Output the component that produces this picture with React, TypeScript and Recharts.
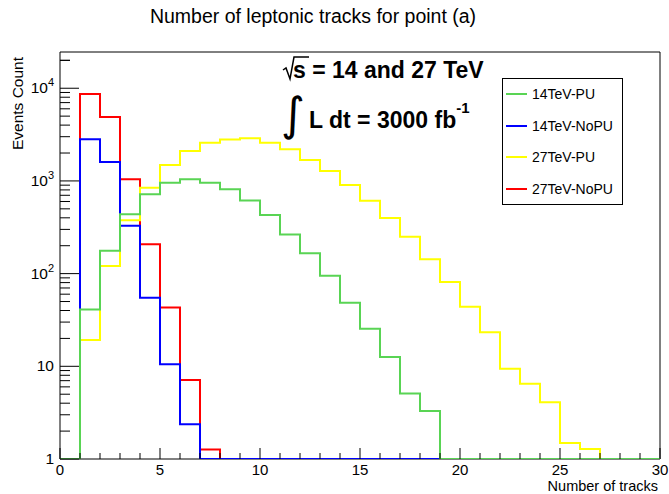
import React from "react";
import { LineChart, Line, XAxis, YAxis, ReferenceArea, Legend, Label } from "recharts";

const FONT = '"Liberation Sans", Arial, Helvetica, sans-serif';

// lower edges of the 30 one-unit bins
const binLow = [
  0, 1, 2, 3, 4, 5, 6, 7, 8, 9, 10, 11, 12, 13, 14, 15, 16, 17, 18, 19, 20,
  21, 22, 23, 24, 25, 26, 27, 28, 29,
];
const xMax = 30;

// bin contents
const pu14 = [
  0, 41, 177, 436, 717, 957, 1040, 957, 815, 615, 428, 265, 166, 95, 48.5,
  25.5, 12.6, 5.1, 3.3, 0, 0, 0, 0, 0, 0, 0, 0, 0, 0, 0,
];
const noPu14 = [
  0, 2810, 1600, 329, 55, 10.5, 2.37, 0, 0, 0, 0, 0, 0, 0, 0, 0, 0, 0, 0, 0,
  0, 0, 0, 0, 0, 0, 0, 0, 0, 0,
];
const pu27 = [
  0, 19.2, 121, 376, 845, 1485, 2100, 2580, 2800, 2880, 2580, 2190, 1680,
  1280, 904, 611, 398, 250, 143, 81, 44, 23.3, 9.4, 6.5, 4.1, 1.49, 1.28, 0,
  0, 0,
];
const noPu27 = [
  0, 8650, 4890, 1040, 208, 43, 7.1, 1.27, 0, 0, 0, 0, 0, 0, 0, 0, 0, 0, 0, 0,
  0, 0, 0, 0, 0, 0, 0, 0, 0, 0,
];

const series = [
  { key: "pu14", name: "14TeV-PU", color: "#59d454", values: pu14 },
  { key: "noPu14", name: "14TeV-NoPU", color: "#0000ff", values: noPu14 },
  { key: "pu27", name: "27TeV-PU", color: "#ffff00", values: pu27 },
  { key: "noPu27", name: "27TeV-NoPU", color: "#ff0000", values: noPu27 },
];

const xTicks = [
  0, 1, 2, 3, 4, 5, 6, 7, 8, 9, 10, 11, 12, 13, 14, 15, 16, 17, 18, 19, 20,
  21, 22, 23, 24, 25, 26, 27, 28, 29, 30,
];
const yMajorTicks = [1, 10, 100, 1000, 10000];
const yTickBase = ["1", "10", "10", "10", "10"];
const yTickExp = ["", "", "2", "3", "4"];
const Y_MIN = 1;
const Y_MAX = 24600;

const yTicks: number[] = [];
yMajorTicks.forEach((m) => {
  for (let k = 1; k <= 9; k++) {
    if (m * k <= Y_MAX) yTicks.push(m * k);
  }
});
yTicks.push(20000);

// step histogram: one point per lower bin edge, plus the closing edge
const chartData = [...binLow, xMax].map((x, i) => {
  const row: Record<string, number> = { x };
  series.forEach((s) => {
    const v = s.values[Math.min(i, s.values.length - 1)];
    row[s.key] = Math.max(v, Y_MIN);
  });
  return row;
});

const XTick = (props: any) => {
  const { x, y, payload } = props;
  const major = payload.value % 5 === 0;
  return (
    <g>
      <line x1={x} x2={x} y1={y} y2={y - (major ? 11 : 6)} stroke="#000" />
      {major && (
        <text x={x} y={y + 15.5} textAnchor="middle" fontSize={15} fontFamily={FONT} fill="#000">
          {payload.value}
        </text>
      )}
    </g>
  );
};

const YTick = (props: any) => {
  const { x, y, payload } = props;
  const idx = yMajorTicks.indexOf(payload.value);
  const major = idx >= 0;
  return (
    <g>
      <line x1={x} x2={x + (major ? 19 : 10)} y1={y} y2={y} stroke="#000" />
      {major && (
        <text x={x - 6} y={y + 5} textAnchor="end" fontSize={15.5} fontFamily={FONT} fill="#000">
          {yTickBase[idx]}
          {yTickExp[idx] && (
            <tspan dy={-7} fontSize={11}>
              {yTickExp[idx]}
            </tspan>
          )}
        </text>
      )}
    </g>
  );
};

const XTitle = (props: any) => {
  const { x, y, width } = props.viewBox;
  return (
    <text x={x + width - 2} y={y + 31.9} textAnchor="end" fontSize={14.5} fontFamily={FONT} fill="#000">
      Number of tracks
    </text>
  );
};

const YTitle = (props: any) => {
  const { y } = props.viewBox;
  const tx = 23;
  const ty = y + 5;
  return (
    <text
      x={tx}
      y={ty}
      textAnchor="end"
      transform={`rotate(-90, ${tx}, ${ty})`}
      fontSize={15.5}
      fontFamily={FONT}
      fill="#000"
    >
      Events Count
    </text>
  );
};

const LegendBox = () => (
  <div
    style={{
      width: 121,
      height: 127,
      border: "1px solid #000",
      background: "#fff",
      boxSizing: "border-box",
      position: "relative",
      fontFamily: FONT,
      fontSize: 14,
      color: "#000",
    }}
  >
    {series.map((s, i) => (
      <div
        key={s.key}
        style={{
          position: "absolute",
          left: 3,
          top: 7 + i * 31.7,
          height: 16,
          display: "flex",
          alignItems: "center",
          whiteSpace: "nowrap",
        }}
      >
        <span style={{ display: "inline-block", width: 21, height: 2, background: s.color, marginRight: 5 }} />
        <span>{s.name}</span>
      </div>
    ))}
  </div>
);

export default function App() {
  const drawOrder = [...series].reverse();
  return (
    <div style={{ position: "absolute", left: 0, top: 0, width: 669, height: 494, background: "#fff" }}>
      <LineChart width={669} height={494} data={chartData} margin={{ top: 52, right: 9, bottom: 0, left: 0 }}>
        <XAxis
          dataKey="x"
          type="number"
          domain={[0, xMax]}
          ticks={xTicks}
          interval={0}
          height={35}
          tickSize={0}
          tickMargin={0}
          axisLine={false}
          tickLine={false}
          tick={<XTick />}
        >
          <Label content={<XTitle />} />
        </XAxis>
        <YAxis
          scale="log"
          type="number"
          domain={[Y_MIN, Y_MAX]}
          allowDataOverflow
          ticks={yTicks}
          interval={0}
          width={60}
          tickSize={0}
          tickMargin={0}
          axisLine={false}
          tickLine={false}
          tick={<YTick />}
        >
          <Label content={<YTitle />} />
        </YAxis>
        <ReferenceArea x1={0} x2={xMax} y1={Y_MIN} y2={Y_MAX} fill="none" stroke="#000" strokeWidth={1} />
        {drawOrder.map((s) => (
          <Line
            key={s.key}
            dataKey={s.key}
            name={s.name}
            type="stepAfter"
            stroke={s.color}
            strokeWidth={2}
            dot={false}
            activeDot={false}
            isAnimationActive={false}
          />
        ))}
        <Legend
          content={<LegendBox />}
          layout="vertical"
          align="center"
          verticalAlign="middle"
          wrapperStyle={{ left: 502, top: 78, width: 121, height: 127 }}
        />
      </LineChart>
      <svg
        width={669}
        height={494}
        style={{ position: "absolute", left: 0, top: 0, pointerEvents: "none" }}
        fontFamily={FONT}
      >
        <text x={313} y={23} textAnchor="middle" fontSize={19.5} fill="#000">
          Number of leptonic tracks for point (a)
        </text>
        <path d="M283 70 L286 68 L290 79 L294 57 L309 57" fill="none" stroke="#000" strokeWidth={1.5} />
        <text x={293} y={78} fontSize={23} fontWeight="bold" fill="#000">
          s = 14 and 27 TeV
        </text>
        <text x={281} y={130} fontSize={46} fontFamily='"DejaVu Sans", sans-serif' fill="#000">
          ∫
        </text>
        <text x={309} y={128} fontSize={23} fontWeight="bold" fill="#000">
          L dt = 3000 fb
          <tspan dy={-15} fontSize={15}>
            -1
          </tspan>
        </text>
      </svg>
    </div>
  );
}
